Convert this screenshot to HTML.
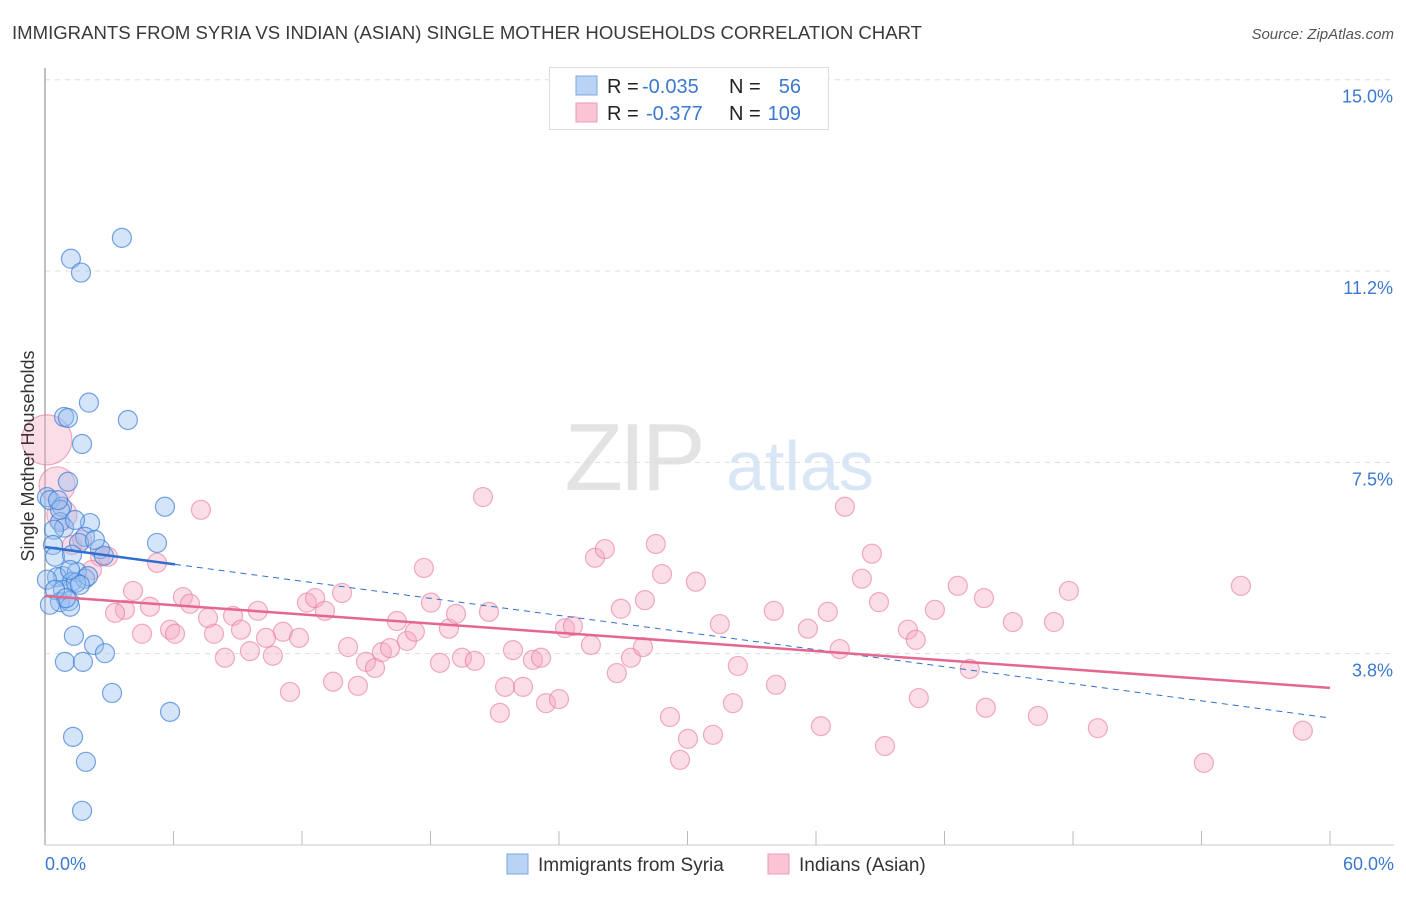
<!DOCTYPE html>
<html><head><meta charset="utf-8"><style>
body{margin:0;background:#fff;font-family:"Liberation Sans",sans-serif;}
svg text{font-family:"Liberation Sans",sans-serif;}
</style></head><body>
<svg id="chart" width="1406" height="892" viewBox="0 0 1406 892" xmlns="http://www.w3.org/2000/svg">
<text x="12" y="39" font-size="18" fill="#3a3a3a" textLength="910" lengthAdjust="spacingAndGlyphs">IMMIGRANTS FROM SYRIA VS INDIAN (ASIAN) SINGLE MOTHER HOUSEHOLDS CORRELATION CHART</text>
<text x="1394" y="39" font-size="15" fill="#555" text-anchor="end" font-style="italic">Source: ZipAtlas.com</text>
<g>
<text x="633" y="490" font-size="96" fill="#e3e3e3" text-anchor="middle" font-family="Liberation Serif" letter-spacing="-4">ZIP</text>
<text x="800" y="490" font-size="70" fill="#d8e6f5" text-anchor="middle">atlas</text>
</g>
<g id="grid"></g>
<g id="axes"></g>
<g id="pts"></g>
<g id="trends"></g>
<text transform="translate(34,456) rotate(-90)" font-size="18" fill="#333" text-anchor="middle">Single Mother Households</text>
<g>
<rect x="549.5" y="67.5" width="279" height="62" fill="#fff" stroke="#ddd"/>
<rect x="576" y="76" width="21" height="19" fill="#b8d3f3" stroke="#7aa8e0"/>
<rect x="576" y="103" width="21" height="19" fill="#f9c4d4" stroke="#ef9ab5"/>
<text x="607" y="93" font-size="20" fill="#222">R =</text>
<text x="642" y="93" font-size="20" fill="#3b78d0">-0.035</text>
<text x="729" y="93" font-size="20" fill="#222">N =</text>
<text x="801" y="93" font-size="20" fill="#3b78d0" text-anchor="end">56</text>
<text x="607" y="120" font-size="20" fill="#222">R =</text>
<text x="646" y="120" font-size="20" fill="#3b78d0">-0.377</text>
<text x="729" y="120" font-size="20" fill="#222">N =</text>
<text x="801" y="120" font-size="20" fill="#3b78d0" text-anchor="end">109</text>
</g>
<g>
<rect x="507" y="854" width="21" height="20" fill="#b8d3f3" stroke="#7aa8e0"/>
<text x="538" y="871" font-size="19" fill="#333">Immigrants from Syria</text>
<rect x="768" y="854" width="21" height="20" fill="#f9c4d4" stroke="#ef9ab5"/>
<text x="799" y="871" font-size="19" fill="#333">Indians (Asian)</text>
</g>
</svg>
<script>
const yTicks=[3.75,7.5,11.25,15];
const yTickLabels=["3.8%","7.5%","11.2%","15.0%"];
const xTicks=[0,6,12,18,24,30,36,42,48,54,60];
const xTickLabels=["0.0%","60.0%"];
const syriaX=[3.59,1.21,1.68,2.05,0.89,1.07,3.87,1.73,1.07,5.60,0.09,0.23,0.79,2.10,0.70,0.89,0.42,1.87,5.23,0.37,1.59,2.57,2.75,0.47,0.84,1.49,0.56,0.09,1.26,1.87,2.01,0.84,0.70,1.12,1.17,1.45,1.35,2.29,2.80,0.93,1.77,3.13,5.84,1.31,1.91,1.73,0.70,1.26,1.63,0.47,0.98,0.23,0.61,2.33,1.17,1.40];
const syriaY=[11.90,11.49,11.22,8.67,8.39,8.37,8.33,7.86,7.12,6.63,6.82,6.76,6.63,6.31,6.33,6.22,6.18,6.04,5.92,5.88,5.92,5.80,5.67,5.65,5.27,5.35,5.25,5.20,5.16,5.22,5.27,5.00,4.76,4.78,4.67,5.14,4.10,3.92,3.76,3.59,3.59,2.98,2.61,2.12,1.63,0.67,6.57,5.69,5.10,5.00,4.84,4.71,6.76,5.98,5.39,6.37];
const indX=[0.09,0.56,0.79,7.28,20.45,37.35,1.26,1.73,2.57,2.94,2.19,4.11,3.73,3.27,4.90,5.23,6.44,6.77,4.53,5.84,6.07,7.89,7.61,8.78,9.15,8.40,9.57,9.94,10.32,10.64,11.11,11.86,11.44,12.23,12.61,13.07,13.87,14.15,13.45,14.61,14.99,15.41,15.73,16.11,16.43,16.90,17.27,17.69,18.02,18.44,18.86,19.19,19.47,20.07,20.73,21.24,21.48,22.32,21.85,22.78,23.16,23.39,24.00,24.28,24.65,25.49,25.68,26.14,26.70,26.89,27.36,27.92,28.01,28.52,28.81,29.18,30.02,29.65,30.39,31.19,31.51,32.12,32.35,34.03,34.13,35.62,36.23,36.55,37.11,38.14,38.61,38.94,39.22,40.29,40.66,40.80,41.55,42.62,43.18,43.84,43.93,45.19,46.36,47.11,47.81,49.16,54.11,55.84,58.73];
const indY=[7.94,7.06,6.47,6.57,6.82,6.63,5.88,5.98,5.65,5.65,5.39,4.98,4.61,4.55,4.67,5.53,4.86,4.73,4.14,4.22,4.14,4.14,4.45,4.49,4.22,3.67,3.80,4.59,4.06,3.71,4.18,4.06,3.00,4.75,4.84,4.59,4.94,3.88,3.20,3.12,3.59,3.47,3.78,3.86,4.39,4.00,4.18,5.43,4.75,3.57,4.24,4.53,3.67,3.61,4.57,2.59,3.10,3.10,3.82,3.63,3.67,2.78,2.86,4.25,4.29,3.92,5.63,5.80,3.37,4.63,3.67,3.88,4.80,5.90,5.31,2.51,2.08,1.67,5.16,2.16,4.33,2.78,3.51,4.59,3.14,4.24,2.33,4.57,3.84,5.22,5.71,4.76,1.94,4.22,4.02,2.88,4.61,5.08,3.45,4.84,2.69,4.37,2.53,4.37,4.98,2.29,1.61,5.08,2.24];
const indSize=[25,18,15];
const syriaTrend=[5.84,2.49]; const syriaSolidEnd=6.07;
const indTrend=[4.88,3.08];

const X=v=>45+v*(1330-45)/60;
const Y=v=>845-v*51.02;
const NS="http://www.w3.org/2000/svg";
function mk(tag,attrs,parent){const e=document.createElementNS(NS,tag);for(const k in attrs)e.setAttribute(k,attrs[k]);document.getElementById(parent).appendChild(e);return e;}
yTicks.forEach((t,i)=>{
 const l=mk('line',{x1:45,x2:1394,y1:Y(t),y2:Y(t),stroke:'#ddd','stroke-dasharray':'5,5'},'grid');
 
 
 const tx=mk('text',{x:1393,y:Y(t)+23,'font-size':18,fill:'#3b78d0','text-anchor':'end'},'grid');
 tx.textContent=yTickLabels[i];
 
 
});
const ax=mk('line',{x1:45,x2:45,y1:68,y2:845,stroke:'#aaa','stroke-width':1.5},'axes');


const bx=mk('line',{x1:45,x2:1394,y1:845,y2:845,stroke:'#ccc'},'axes');


xTicks.forEach(t=>{
 const l=mk('line',{x1:X(t),x2:X(t),y1:831,y2:845,stroke:'#bbb'},'axes');
 
 
});
[[0,'start',45],[60,'end',1394]].forEach((p,i)=>{
 const tx=mk('text',{x:p[2],y:870,'font-size':18,fill:'#3b78d0','text-anchor':p[1]},'axes');
 tx.textContent=xTickLabels[i];
 
 
});
indX.forEach((v,i)=>{
 const c=mk('circle',{cx:X(v),cy:Y(indY[i]),r:indSize[i]||9.5,fill:'rgba(246,170,195,0.4)',stroke:'rgba(232,120,155,0.6)','stroke-width':1.2},'pts');
 
 
});
syriaX.forEach((v,i)=>{
 const c=mk('circle',{cx:X(v),cy:Y(syriaY[i]),r:9.5,fill:'rgba(150,190,240,0.4)',stroke:'rgba(60,125,215,0.7)','stroke-width':1.2},'pts');
 
 
});
const sy=x=>syriaTrend[0]+(syriaTrend[1]-syriaTrend[0])*x/60;
const l1=mk('line',{x1:X(0),y1:Y(sy(0)),x2:X(syriaSolidEnd),y2:Y(sy(syriaSolidEnd)),stroke:'#2f6fd0','stroke-width':2.5},'trends');


const l2=mk('line',{x1:X(syriaSolidEnd),y1:Y(sy(syriaSolidEnd)),x2:X(60),y2:Y(sy(60)),stroke:'#2f6fd0','stroke-width':1,'stroke-dasharray':'6,5'},'trends');


const l3=mk('line',{x1:X(0),y1:Y(indTrend[0]),x2:X(60),y2:Y(indTrend[1]),stroke:'#e4678f','stroke-width':2.5},'trends');


</script>
</body></html>
